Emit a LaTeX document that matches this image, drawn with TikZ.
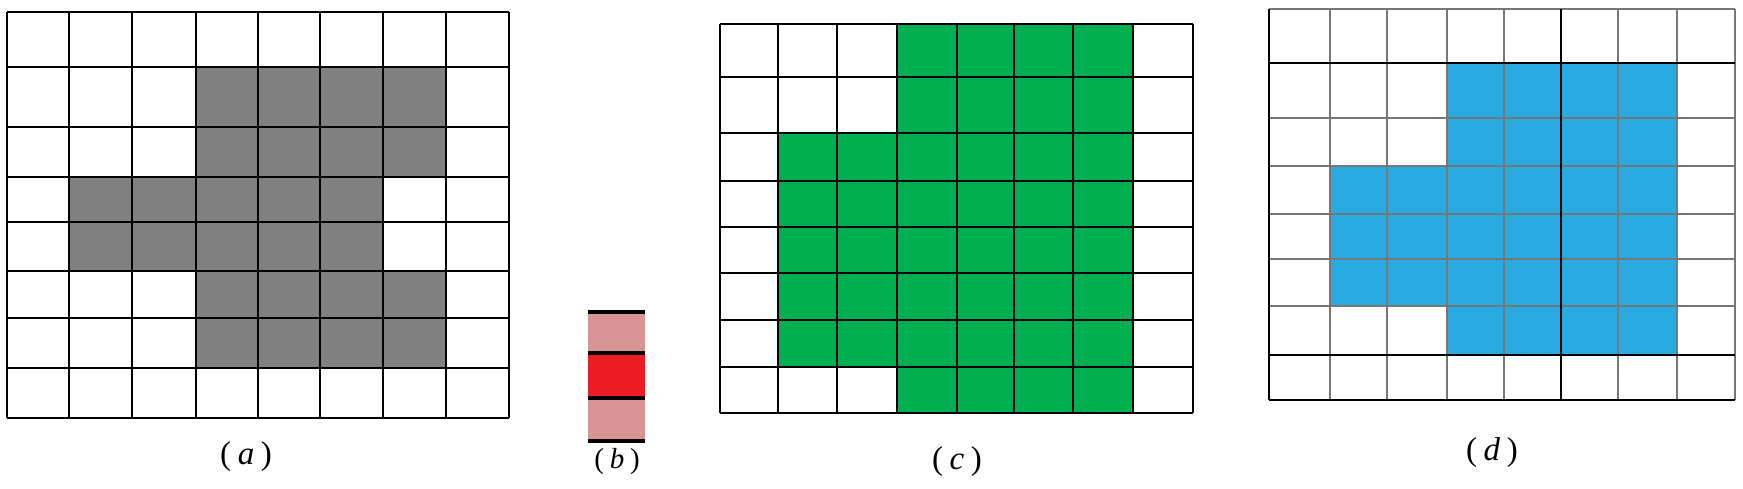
\documentclass[tikz,border=0pt]{standalone}
\usepackage{fontspec}
\newfontfamily\capfont{Liberation Serif}
\usetikzlibrary{calc}
\definecolor{cellgray}{HTML}{808080}
\definecolor{cellgreen}{HTML}{00B050}
\definecolor{cellblue}{HTML}{29ABE2}
\definecolor{cellpink}{HTML}{D99594}
\definecolor{cellred}{HTML}{ED1C24}
\definecolor{gridgray}{HTML}{777777}
\newcommand{\capt}[1]{(\hspace{0.2em}\textit{#1}\hspace{0.2em})}
\begin{document}
\begin{tikzpicture}[x=1pt,y=-1pt,
  gridline/.style={draw=black,line width=2.8pt},
  thinline/.style={draw=gridgray,line width=2.2pt},
  thickline/.style={draw=black,line width=2.8pt},
  barline/.style={draw=black,line width=3.4pt},
  caption/.style={font=\capfont\fontsize{33}{38}\selectfont,inner sep=0pt},
  smallcaption/.style={font=\capfont\fontsize{29}{34}\selectfont,inner sep=0pt}]
\useasboundingbox (0,0) rectangle (1743,489);
\fill[white] (0,0) rectangle (1743,489);
% ---------- (a) ----------
\fill[cellgray] (196,67) rectangle (446,177);
\fill[cellgray] (69,177) rectangle (383,271);
\fill[cellgray] (196,271) rectangle (446,368);
\foreach \x in {7,69,132,196,258,320,383,446,509}
  \draw[gridline] (\x,12) -- (\x,418);
\foreach \y in {12,67,127,177,222,271,318,368,418}
  \draw[gridline] (7,\y) -- (509,\y);
\node[caption] (capa) at (246,457) {\capt{a}};
% ---------- (b) ----------
\fill[cellpink] (588,312) rectangle (645,353);
\fill[cellred] (588,353) rectangle (645,398);
\fill[cellpink] (588,398) rectangle (645,441);
\foreach \y in {312,353,398,441}
  \draw[barline] (588,\y) -- (645,\y);
\node[smallcaption] (capb) at (617,462) {\capt{b}};
% ---------- (c) ----------
\fill[cellgreen] (897,24) rectangle (1133,413);
\fill[cellgreen] (778,133) rectangle (1133,367);
\foreach \x in {720,778,837,897,957,1014,1073,1133,1193}
  \draw[gridline] (\x,24) -- (\x,413);
\foreach \y in {24,77,133,181,227,273,320,367,413}
  \draw[gridline] (720,\y) -- (1193,\y);
\node[caption] (capc) at (957,462) {\capt{c}};
% ---------- (d) ----------
\fill[cellblue] (1447,63) rectangle (1677,355);
\fill[cellblue] (1330,166) rectangle (1447,306);
\foreach \x in {1330,1387,1447,1504,1618,1677,1735}
  \draw[thinline] (\x,9) -- (\x,400);
\foreach \y in {9,118,166,214,259,306}
  \draw[thinline] (1269,\y) -- (1735,\y);
\foreach \x in {1269,1561}
  \draw[thickline] (\x,9) -- (\x,400);
\foreach \y in {63,355,400}
  \draw[thickline] (1269,\y) -- (1735,\y);
\node[caption] (capd) at (1492,453) {\capt{d}};
\end{tikzpicture}
\end{document}
